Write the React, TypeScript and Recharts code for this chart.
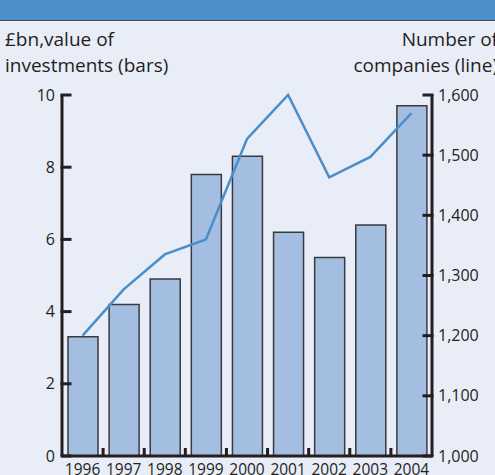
import React from 'react';
import { ComposedChart, Bar, Line, XAxis, YAxis } from 'recharts';

// Investment value (£bn) and number of companies backed, by year
const years = ['1996', '1997', '1998', '1999', '2000', '2001', '2002', '2003', '2004'];
const investments = [3.3, 4.2, 4.9, 7.8, 8.3, 6.2, 5.5, 6.4, 9.7];
const companies = [1200, 1277, 1335, 1360, 1527, 1600, 1463, 1497, 1570];
const leftTicks = [0, 2, 4, 6, 8, 10];
const rightTicks = [1000, 1100, 1200, 1300, 1400, 1500, 1600];

const data = years.map((year, i) => ({
  year,
  investments: investments[i],
  companies: companies[i],
}));

const WIDTH = 495;
const HEIGHT = 475;
const MARGIN = { top: 95, right: 0, bottom: 0, left: 12 };
const LEFT_AXIS_W = 50;
const RIGHT_AXIS_W = 63;
const X_AXIS_H = 19;
const PLOT_W = WIDTH - MARGIN.left - MARGIN.right - LEFT_AXIS_W - RIGHT_AXIS_W;
const BAND = PLOT_W / years.length;

const INK = '#231f20';
const BG = '#e9edf8';
const FONT = '"Open Sans", Lato, sans-serif';

function LeftTick({ x, y, payload }: any) {
  return (
    <g>
      <line x1={x} x2={x + 8} y1={y} y2={y} stroke={INK} strokeWidth={3} strokeLinecap="square" />
      <text x={x - 7} y={y} dy="0.35em" textAnchor="end" fontSize={16} fill={INK} fontFamily={FONT}>
        {payload.value}
      </text>
    </g>
  );
}

function RightTick({ x, y, payload }: any) {
  return (
    <g>
      <line x1={x} x2={x - 8} y1={y} y2={y} stroke={INK} strokeWidth={3} strokeLinecap="square" />
      <text x={x + 6} y={y} dy="0.35em" textAnchor="start" fontSize={16} fill={INK} fontFamily={FONT}>
        {payload.value.toLocaleString('en-GB')}
      </text>
    </g>
  );
}

function BottomTick({ x, y, payload, index }: any) {
  const edge = x + BAND / 2;
  return (
    <g>
      {index < years.length - 1 && (
        <line x1={edge} x2={edge} y1={y} y2={y - 8} stroke={INK} strokeWidth={3} />
      )}
      <text x={x} y={y + 19} textAnchor="middle" fontSize={15.5} fill={INK} fontFamily={FONT}>
        {payload.value}
      </text>
    </g>
  );
}

const labelStyle: React.CSSProperties = {
  position: 'absolute',
  fontFamily: FONT,
  fontSize: 19,
  lineHeight: '26px',
  color: INK,
  whiteSpace: 'nowrap',
};

export default function App() {
  return (
    <div
      style={{
        position: 'fixed',
        top: 0,
        left: 0,
        width: WIDTH,
        height: HEIGHT,
        background: BG,
        overflow: 'hidden',
      }}
    >
      <div
        style={{
          position: 'absolute',
          top: 0,
          left: 0,
          width: WIDTH,
          height: 20,
          background: '#4d8fc9',
          borderBottom: '1px solid #3b4d60',
          boxShadow: '0 1px 0 #f4f6fb',
        }}
      />
      <div style={{ ...labelStyle, left: 5, top: 26 }}>
        £bn,value of
        <br />
        investments (bars)
      </div>
      <div style={{ ...labelStyle, right: -3, top: 26, textAlign: 'right' }}>
        Number of
        <br />
        companies (line)
      </div>
      <ComposedChart width={WIDTH} height={HEIGHT} data={data} margin={MARGIN}>
        <XAxis
          dataKey="year"
          height={X_AXIS_H}
          tickSize={0}
          tickMargin={0}
          tickLine={false}
          axisLine={{ stroke: INK, strokeWidth: 3 }}
          tick={<BottomTick />}
          interval={0}
        />
        <YAxis
          yAxisId="left"
          orientation="left"
          width={LEFT_AXIS_W}
          domain={[0, 10]}
          ticks={leftTicks}
          tickSize={0}
          tickMargin={0}
          tickLine={false}
          axisLine={{ stroke: INK, strokeWidth: 3 }}
          tick={<LeftTick />}
          interval={0}
        />
        <YAxis
          yAxisId="right"
          orientation="right"
          width={RIGHT_AXIS_W}
          domain={[1000, 1600]}
          ticks={rightTicks}
          tickSize={0}
          tickMargin={0}
          tickLine={false}
          axisLine={{ stroke: INK, strokeWidth: 3 }}
          tick={<RightTick />}
          interval={0}
        />
        <Bar
          yAxisId="left"
          dataKey="investments"
          barSize={30}
          fill="#a4bee2"
          stroke="#3a3a3c"
          strokeWidth={1.5}
          isAnimationActive={false}
        />
        <Line
          yAxisId="right"
          type="linear"
          dataKey="companies"
          stroke="#4a8fcb"
          strokeWidth={2.5}
          dot={false}
          activeDot={false}
          isAnimationActive={false}
        />
      </ComposedChart>
    </div>
  );
}
